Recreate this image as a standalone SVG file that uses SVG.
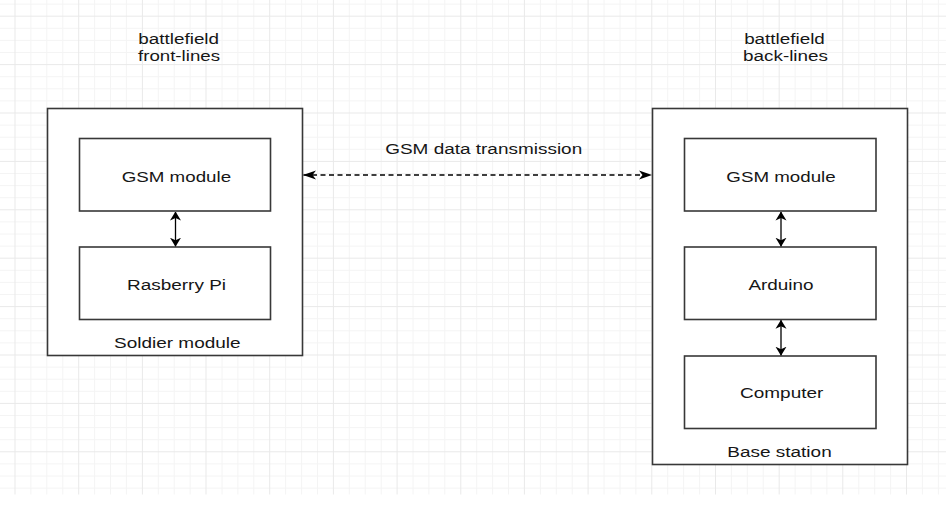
<svg xmlns="http://www.w3.org/2000/svg" width="946" height="506" viewBox="0 0 946 506">
<style>
.minor{stroke:#f4f4f4;stroke-width:1;fill:none}
.major{stroke:#e9e9e9;stroke-width:1;fill:none}
.box{fill:#fff;stroke:#383838;stroke-width:1.6}
.lbl{font-family:"Liberation Sans",Arial,sans-serif;font-size:15.5px;fill:#161616;text-anchor:middle}
.conn{stroke:#000;stroke-width:1.3;fill:none}
</style>
<defs>
<marker id="ah" markerUnits="userSpaceOnUse" viewBox="0 -5 13 10" refX="12.5" refY="0" markerWidth="13" markerHeight="10" orient="auto-start-reverse">
<path d="M0,-4.6 L13,0 L0,4.6 L3.5,0 Z" fill="#000"/>
</marker>
<marker id="av" markerUnits="userSpaceOnUse" viewBox="0 -6 9 12" refX="8.5" refY="0" markerWidth="9" markerHeight="12" orient="auto-start-reverse">
<path d="M0,-5.5 L9,0 L0,5.5 L2.5,0 Z" fill="#000"/>
</marker>
</defs>
<rect width="946" height="506" fill="#fff"/>
<g id="grid">
<path class="minor" d="M30.9,0V494.5M46.8,0V494.5M62.8,0V494.5M94.6,0V494.5M110.5,0V494.5M126.4,0V494.5M158.3,0V494.5M174.2,0V494.5M190.1,0V494.5M222,0V494.5M237.9,0V494.5M253.8,0V494.5M285.6,0V494.5M301.6,0V494.5M317.5,0V494.5M349.3,0V494.5M365.2,0V494.5M381.2,0V494.5M413,0V494.5M428.9,0V494.5M444.8,0V494.5M476.7,0V494.5M492.6,0V494.5M508.5,0V494.5M540.4,0V494.5M556.3,0V494.5M572.2,0V494.5M604,0V494.5M620,0V494.5M635.9,0V494.5M667.7,0V494.5M683.6,0V494.5M699.6,0V494.5M731.4,0V494.5M747.3,0V494.5M763.2,0V494.5M795.1,0V494.5M811,0V494.5M826.9,0V494.5M858.8,0V494.5M874.7,0V494.5M890.6,0V494.5M922.4,0V494.5M938.4,0V494.5
M0,4.1H946M0,28.3H946M0,40.4H946M0,52.5H946M0,76.7H946M0,88.8H946M0,100.9H946M0,125.1H946M0,137.2H946M0,149.3H946M0,173.5H946M0,185.6H946M0,197.7H946M0,221.9H946M0,234H946M0,246.1H946M0,270.3H946M0,282.4H946M0,294.5H946M0,318.7H946M0,330.8H946M0,342.9H946M0,367.1H946M0,379.2H946M0,391.3H946M0,415.5H946M0,427.6H946M0,439.7H946M0,463.9H946M0,476H946M0,488.1H946"/>
<path class="major" d="M15,0V494.5M78.7,0V494.5M142.4,0V494.5M206,0V494.5M269.7,0V494.5M333.4,0V494.5M397.1,0V494.5M460.8,0V494.5M524.4,0V494.5M588.1,0V494.5M651.8,0V494.5M715.5,0V494.5M779.2,0V494.5M842.8,0V494.5M906.5,0V494.5
M0,16.2H946M0,64.6H946M0,113H946M0,161.4H946M0,209.8H946M0,258.2H946M0,306.6H946M0,355H946M0,403.4H946M0,451.8H946"/>
</g>
<g id="label-front">
<text class="lbl" x="178.7" y="44.3" textLength="80.7" lengthAdjust="spacingAndGlyphs">battlefield</text>
<text class="lbl" x="179" y="61" textLength="82" lengthAdjust="spacingAndGlyphs">front-lines</text>
</g>
<g id="label-back">
<text class="lbl" x="784.5" y="44.3" textLength="80.7" lengthAdjust="spacingAndGlyphs">battlefield</text>
<text class="lbl" x="785.5" y="61" textLength="85" lengthAdjust="spacingAndGlyphs">back-lines</text>
</g>
<g id="soldier-module">
<rect class="box" x="47.5" y="108.5" width="255" height="247"/>
<text class="lbl" x="177.3" y="347.7" textLength="126.5" lengthAdjust="spacingAndGlyphs">Soldier module</text>
</g>
<g id="base-station">
<rect class="box" x="652.5" y="108.5" width="255" height="356"/>
<text class="lbl" x="779.5" y="456.7" textLength="104.4" lengthAdjust="spacingAndGlyphs">Base station</text>
</g>
<g id="gsm-left">
<rect class="box" x="79.5" y="138.5" width="191" height="72.5"/>
<text class="lbl" x="176.4" y="182.3" textLength="109.3" lengthAdjust="spacingAndGlyphs">GSM module</text>
</g>
<g id="rasberry-pi">
<rect class="box" x="79.5" y="247" width="191" height="72.5"/>
<text class="lbl" x="176.5" y="289.8" textLength="99" lengthAdjust="spacingAndGlyphs">Rasberry Pi</text>
</g>
<g id="gsm-right">
<rect class="box" x="684.5" y="138.5" width="191.5" height="72.5"/>
<text class="lbl" x="781" y="182.3" textLength="109.3" lengthAdjust="spacingAndGlyphs">GSM module</text>
</g>
<g id="arduino">
<rect class="box" x="684.5" y="247" width="191.5" height="72.5"/>
<text class="lbl" x="781" y="289.8" textLength="65.2" lengthAdjust="spacingAndGlyphs">Arduino</text>
</g>
<g id="computer">
<rect class="box" x="684.5" y="356" width="191.5" height="72.5"/>
<text class="lbl" x="781.7" y="398.3" textLength="83.3" lengthAdjust="spacingAndGlyphs">Computer</text>
</g>
<g id="connectors">
<path class="conn" d="M303.5,175H651.5" stroke-dasharray="5 3.5" marker-start="url(#ah)" marker-end="url(#ah)"/>
<text class="lbl" x="483.7" y="154" textLength="197" lengthAdjust="spacingAndGlyphs">GSM data transmission</text>
<path class="conn" d="M175.5,212V246.2" marker-start="url(#av)" marker-end="url(#av)"/>
<path class="conn" d="M781,212V246.2" marker-start="url(#av)" marker-end="url(#av)"/>
<path class="conn" d="M781,320.3V355.2" marker-start="url(#av)" marker-end="url(#av)"/>
</g>
</svg>
